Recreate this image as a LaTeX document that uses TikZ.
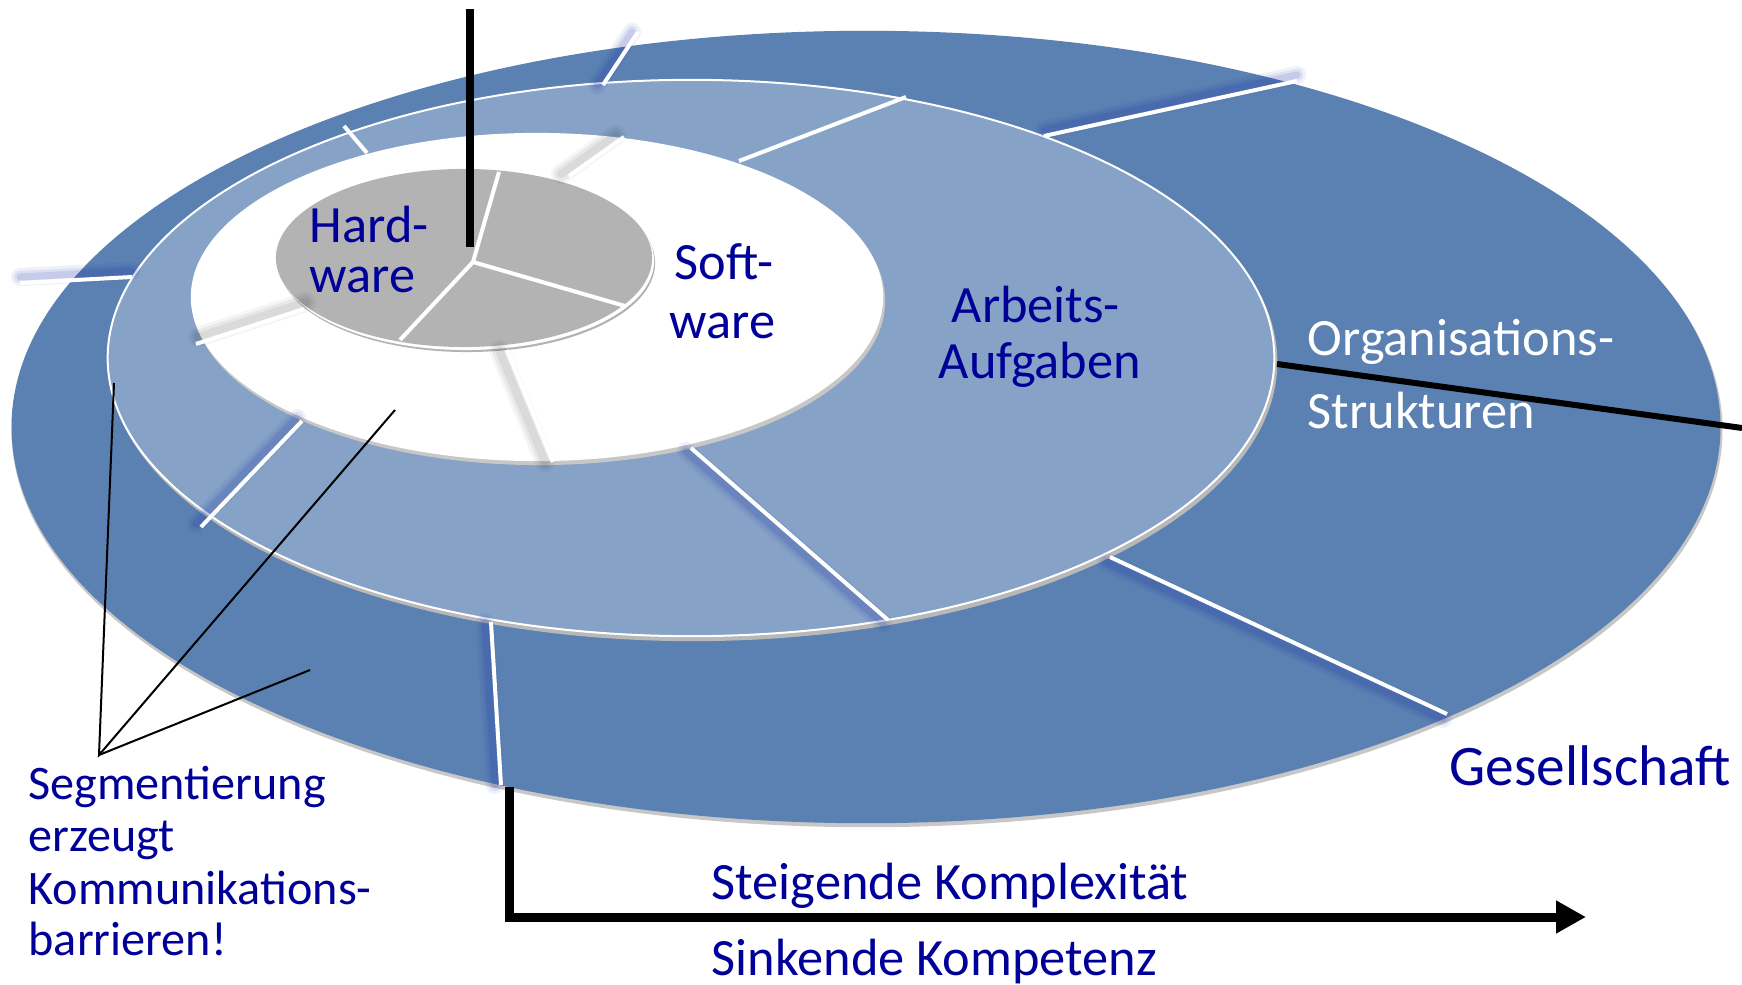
\documentclass[tikz,border=0pt]{standalone}
\usepackage{fontspec}
\setmainfont{Carlito}
\usetikzlibrary{arrows.meta,calc}

\definecolor{ringouter}{RGB}{90,129,177}
\definecolor{ringmid}{RGB}{134,162,198}
\definecolor{hubgrey}{RGB}{179,179,179}
\definecolor{labelblue}{RGB}{0,0,153}
\definecolor{seamshade}{RGB}{30,50,170}

\tikzset{
  lbl/.style={anchor=base west, inner sep=0pt, text=labelblue, font=\fontsize{14.9}{18}\selectfont},
  lblbig/.style={lbl, font=\fontsize{16.3}{19}\selectfont},
  lblsmall/.style={lbl, font=\fontsize{13.7}{16}\selectfont},
  lblwhite/.style={lbl, text=white},
  seam/.style={draw=white, line width=0.04cm},
  pointer/.style={draw=black, line width=0.02cm},
  bar/.style={draw=black, line width=0.085cm},
}

\begin{document}
\begin{tikzpicture}[x=0.01cm, y=-0.01cm]
\useasboundingbox (0,0) rectangle (1742,985);

% --- Gesellschaft (outer disc)
\fill[black!22] (867,430) ellipse [x radius=8.55cm, y radius=3.97cm];
\fill[ringouter] (866,427) ellipse [x radius=8.54cm, y radius=3.96cm];

% --- Arbeitsaufgaben (middle disc)
\fill[black!28] (693,362) ellipse [x radius=5.84cm, y radius=2.79cm];
\fill[ringmid, draw=white, line width=0.02cm] (691,358) ellipse [x radius=5.83cm, y radius=2.78cm];

% --- Software (white disc)
\fill[black!22] (539,301) ellipse [x radius=3.46cm, y radius=1.64cm];
\fill[white] (537,297) ellipse [x radius=3.46cm, y radius=1.64cm];

% --- Hardware (grey hub)
\fill[black!30] (467,263) ellipse [x radius=1.88cm, y radius=0.89cm];
\fill[white] (466,261) ellipse [x radius=1.88cm, y radius=0.89cm];
\fill[hubgrey] (464,258) ellipse [x radius=1.88cm, y radius=0.89cm];

% seam end points
\coordinate (hc) at (473,262);
\coordinate (h1) at (499,172);
\coordinate (h2) at (625,306);
\coordinate (h3) at (400,340);

\coordinate (s1a) at (569,176);  \coordinate (s1b) at (624,137);
\coordinate (s2a) at (304,309);  \coordinate (s2b) at (196,344);
\coordinate (s3a) at (507,350);  \coordinate (s3b) at (553,462);

\coordinate (m1a) at (367,153);  \coordinate (m1b) at (344,126);
\coordinate (m2a) at (739,161);  \coordinate (m2b) at (906,97);
\coordinate (m3a) at (302,421);  \coordinate (m3b) at (201,527);
\coordinate (m4a) at (691,448);  \coordinate (m4b) at (888,620);

\coordinate (o1a) at (603,85);   \coordinate (o1b) at (638,32);
\coordinate (o2a) at (1044,136); \coordinate (o2b) at (1297,81);
\coordinate (o3a) at (132,277);  \coordinate (o3b) at (20,283);
\coordinate (o4a) at (491,622);  \coordinate (o4b) at (501,785);
\coordinate (o5a) at (1110,557); \coordinate (o5b) at (1447,714);

% soft blue shadows beside the outer and middle seams
\foreach \a/\b/\dx/\dy in {
    o1a/o1b/-6/0, o2a/o2b/0/-6, o3a/o3b/0/-6,
    o4a/o4b/-6/0, o5a/o5b/-4/5,
    m3a/m3b/-5/-3, m4a/m4b/-5/3}
  \foreach \w/\o in {0.18/0.07, 0.12/0.09, 0.07/0.12}
    \draw[draw=seamshade, opacity=\o, line width=\w cm, line cap=round]
      ([shift={(\dx,\dy)}]\a) -- ([shift={(\dx,\dy)}]\b);

% soft grey shadows beside the software seams
\foreach \a/\b/\dx/\dy in {s1a/s1b/-8/-2, s2a/s2b/2/-7, s3a/s3b/-8/0}
  \foreach \w/\o in {0.20/0.04, 0.14/0.05, 0.08/0.06}
    \draw[draw=black, opacity=\o, line width=\w cm, line cap=round]
      ([shift={(\dx,\dy)}]\a) -- ([shift={(\dx,\dy)}]\b);

% seams of all rings
\foreach \a/\b in {hc/h1, hc/h2, hc/h3,
                   s1a/s1b, s2a/s2b, s3a/s3b,
                   m1a/m1b, m2a/m2b, m3a/m3b, m4a/m4b,
                   o1a/o1b, o2a/o2b, o3a/o3b, o4a/o4b, o5a/o5b}
  \draw[seam] (\a) -- (\b);

% vertical axis and the cut to the right
\coordinate (vt) at (470,9);
\coordinate (vb) at (470,247);
\draw[bar] (vt) -- (vb);
\coordinate (ra) at (1277,364);
\coordinate (rb) at (1742,428);
\draw[draw=black, line width=0.06cm] (ra) -- (rb);

% complexity arrow
\coordinate (ka) at (509,787);
\coordinate (kb) at (1586,917);
\draw[draw=black, line width=0.09cm, -{Triangle[length=0.30cm, width=0.31cm]}] (ka) |- (kb);

% pointers of the segmentation remark
\coordinate (sp) at (99,755);
\coordinate (sp1) at (114,383);
\coordinate (sp2) at (395,410);
\coordinate (sp3) at (310,670);
\draw[pointer] (sp1) -- (sp) -- (sp2);
\draw[pointer] (sp) -- (sp3);

% labels
\node[lbl] (hw1) at (309,243) {Hard-};
\node[lbl] (hw2) at (309,293) {ware};
\node[lbl] (sw1) at (674,279) {Soft-};
\node[lbl] (sw2) at (669,338) {ware};
\node[lbl] (aa1) at (951,322) {Arbeits-};
\node[lbl] (aa2) at (938,378) {Aufgaben};
\node[lblwhite] (os1) at (1307,356) {Organisations-};
\node[lblwhite] (os2) at (1307,429) {Strukturen};
\node[lblbig] (ges) at (1449,785) {Gesellschaft};
\node[lbl] (kx) at (711,899) {Steigende Komplexität};
\node[lbl] (kp) at (711,975) {Sinkende Kompetenz};
\node[lblsmall] (sg1) at (28,799) {Segmentierung};
\node[lblsmall] (sg2) at (28,851) {erzeugt};
\node[lblsmall] (sg3) at (28,904) {Kommunikations-};
\node[lblsmall] (sg4) at (28,955) {barrieren!};
\end{tikzpicture}
\end{document}
